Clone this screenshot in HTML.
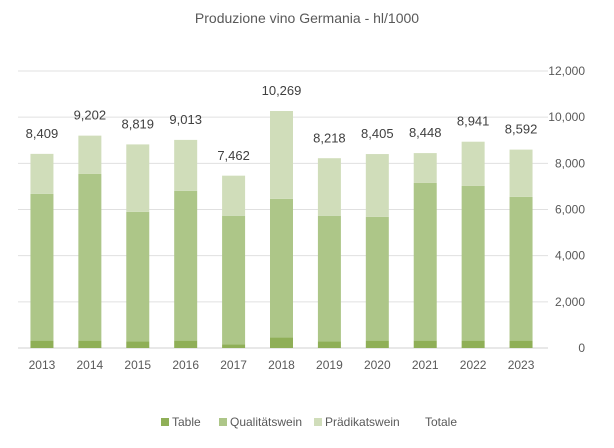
<!DOCTYPE html>
<html><head><meta charset="utf-8"><style>
body{margin:0;background:#fff;font-family:"Liberation Sans",sans-serif;}
</style></head><body>
<svg id="c" width="614" height="443" font-family="Liberation Sans, sans-serif">
<text x="307" y="23" text-anchor="middle" font-size="14" fill="#595959">Produzione vino Germania - hl/1000</text>
<g id="grid"></g><g id="bars"></g><g id="labels"></g>
<g font-size="12" fill="#595959">
<g><rect x="161" y="418" width="8" height="8" fill="#8faf57"/><text x="172" y="426">Table</text></g>
<g><rect x="219" y="418" width="8" height="8" fill="#adc688"/><text x="230" y="426">Qualitätswein</text></g>
<g><rect x="314" y="418" width="8" height="8" fill="#d0ddba"/><text x="325" y="426">Prädikatswein</text></g>
<g><text x="425" y="426">Totale</text></g>
</g>
</svg>
<script>
const categories=["2013","2014","2015","2016","2017","2018","2019","2020","2021","2022","2023"];
const table=[320,320,280,320,150,460,280,320,320,320,320];
const qualitaet=[6360,7220,5620,6490,5580,6000,5450,5360,6830,6700,6230];
const praedikat=[1730,1660,2920,2205,1736,3807,2492,2722,1294,1917,2044];
const totals=[8409,9202,8819,9013,7462,10269,8218,8405,8448,8941,8592];
const ticks=[0,2000,4000,6000,8000,10000,12000];
const NS="http://www.w3.org/2000/svg";
const x0=18,x1=545,yb=348,yt=71,ymax=12000;
const step=(x1-x0)/categories.length;
const xc=i=>x0+step*(i+0.5);
const y=v=>yb-(v/ymax)*(yb-yt);
function mk(t,a,p){const e=document.createElementNS(NS,t);for(const k in a)e.setAttribute(k,a[k]);p.appendChild(e);return e;}
const G=document.getElementById('grid'),B=document.getElementById('bars'),L=document.getElementById('labels');
ticks.forEach(t=>{
 const l=mk('line',{x1:x0,x2:x1+3,y1:y(t),y2:y(t),stroke:t===0?'#d0d0d0':'#e0e0e0','stroke-width':1},G);
 
 
 const tx=mk('text',{x:585,y:y(t)+4,'text-anchor':'end','font-size':12,fill:'#595959'},G);
 tx.textContent=t.toLocaleString('en-US');
 
 
});
const bw=23;
categories.forEach((c,i)=>{
 let base=0;
 [[table,'#8faf57','table'],[qualitaet,'#adc688','qualitaetswein'],[praedikat,'#d0ddba','praedikatswein']].forEach(([arr,col,n])=>{
  const r=mk('rect',{x:xc(i)-bw/2,y:y(base+arr[i]),width:bw,height:y(base)-y(base+arr[i]),fill:col},B);
  
  
  base+=arr[i];
 });
 const tl=mk('text',{x:xc(i),y:y(totals[i])-16,'text-anchor':'middle','font-size':13,fill:'#404040'},L);
 tl.textContent=totals[i].toLocaleString('en-US');
 
 
 const xl=mk('text',{x:xc(i),y:369,'text-anchor':'middle','font-size':12,fill:'#595959'},L);
 xl.textContent=c;
 
 
});
</script>
</body></html>
